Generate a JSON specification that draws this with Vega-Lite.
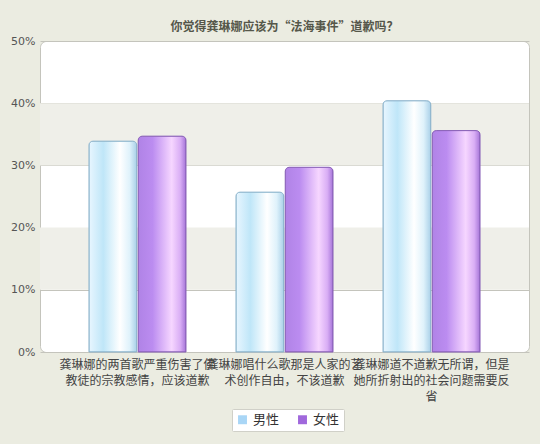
{
  "$schema": "https://vega.github.io/schema/vega-lite/v6.json",
  "width": 489,
  "height": 311,
  "autosize": {"type": "none"},
  "padding": {"left": 40, "top": 41, "right": 11, "bottom": 92},
  "background": "#ebece1",
  "title": {
    "text": "你觉得龚琳娜应该为“法海事件”道歉吗？",
    "fontSize": 12,
    "font": "Noto Sans CJK SC",
    "fontWeight": "bold",
    "color": "#55574a",
    "offset": 1
  },
  "datasets": {
    "survey": [
      {"opinion": "龚琳娜的两首歌严重伤害了佛教徒的宗教感情，应该道歉", "gender": "男性", "share": 0.339},
      {"opinion": "龚琳娜的两首歌严重伤害了佛教徒的宗教感情，应该道歉", "gender": "女性", "share": 0.347},
      {"opinion": "龚琳娜唱什么歌那是人家的艺术创作自由，不该道歉", "gender": "男性", "share": 0.257},
      {"opinion": "龚琳娜唱什么歌那是人家的艺术创作自由，不该道歉", "gender": "女性", "share": 0.297},
      {"opinion": "龚琳娜道不道歉无所谓，但是她所折射出的社会问题需要反省", "gender": "男性", "share": 0.404},
      {"opinion": "龚琳娜道不道歉无所谓，但是她所折射出的社会问题需要反省", "gender": "女性", "share": 0.356}
    ],
    "bands": [
      {"from": 0.1, "to": 0.2},
      {"from": 0.3, "to": 0.4}
    ]
  },
  "layer": [
    {
      "data": {"name": "bands"},
      "mark": {"type": "rect", "fill": "#efefe9"},
      "encoding": {
        "y": {"field": "from", "type": "quantitative"},
        "y2": {"field": "to"}
      }
    },
    {
      "data": {"name": "survey"},
      "mark": {"type": "bar", "cornerRadiusTopLeft": 4, "cornerRadiusTopRight": 4},
      "encoding": {
        "x": {
          "field": "opinion",
          "type": "nominal",
          "sort": null,
          "title": null,
          "scale": {"paddingInner": 0.34, "paddingOuter": 0.333},
          "axis": {
            "labelAngle": 0,
            "labelLimit": 0,
            "labelOverlap": false,
            "labelFontSize": 12,
            "labelFont": "Noto Sans CJK SC",
            "labelColor": "#444444",
            "labelLineHeight": 16,
            "labelPadding": 7,
            "labelBaseline": "top",
            "ticks": false,
            "domain": false,
            "labelExpr": "length(datum.label) > 26 ? [slice(datum.label, 0, 13), slice(datum.label, 13, 26), slice(datum.label, 26)] : [slice(datum.label, 0, 13), slice(datum.label, 13)]"
          }
        },
        "xOffset": {
          "field": "gender",
          "type": "nominal",
          "sort": ["男性", "女性"],
          "scale": {"paddingInner": 0.03}
        },
        "y": {
          "field": "share",
          "type": "quantitative",
          "title": null,
          "scale": {"domain": [0, 0.5]},
          "axis": {
            "values": [0, 0.1, 0.2, 0.3, 0.4, 0.5],
            "format": ".0%",
            "labelFontSize": 11,
            "labelFont": "DejaVu Sans",
            "labelColor": "#555555",
            "labelPadding": 5,
            "ticks": false,
            "domain": false,
            "grid": true,
            "gridColor": "#c4c4bc",
            "gridOpacity": 1
          }
        },
        "color": {
          "field": "gender",
          "type": "nominal",
          "sort": ["男性", "女性"],
          "title": null,
          "scale": {"domain": ["男性", "女性"], "range": ["#a9d6f6", "#a068dc"]},
          "legend": {
            "orient": "none",
            "direction": "horizontal",
            "legendX": 192,
            "legendY": 368,
            "symbolType": "square",
            "symbolSize": 80,
            "symbolStrokeWidth": 0,
            "labelFontSize": 13,
            "labelFont": "Noto Sans CJK SC",
            "labelColor": "#333333",
            "columnPadding": 16,
            "fillColor": "#ffffff",
            "strokeColor": "#d0d0c8",
            "padding": 4,
            "cornerRadius": 1
          }
        }
      }
    },
    {
      "data": {"name": "survey"},
      "transform": [{"filter": "datum.gender === '男性'"}],
      "mark": {
        "type": "bar",
        "cornerRadiusTopLeft": 4,
        "cornerRadiusTopRight": 4,
        "stroke": "#8db4cc",
        "strokeWidth": 1,
        "fill": {
          "gradient": "linear",
          "x1": 0, "y1": 0, "x2": 1, "y2": 0,
          "stops": [
            {"offset": 0, "color": "#e8f6ff"},
            {"offset": 0.3, "color": "#bfe6f8"},
            {"offset": 0.65, "color": "#ffffff"},
            {"offset": 0.85, "color": "#dff2fb"},
            {"offset": 1, "color": "#a9d0e8"}
          ]
        }
      },
      "encoding": {
        "x": {"field": "opinion", "type": "nominal", "sort": null},
        "xOffset": {"field": "gender", "type": "nominal", "sort": ["男性", "女性"]},
        "y": {"field": "share", "type": "quantitative"}
      }
    },
    {
      "data": {"name": "survey"},
      "transform": [{"filter": "datum.gender === '女性'"}],
      "mark": {
        "type": "bar",
        "cornerRadiusTopLeft": 4,
        "cornerRadiusTopRight": 4,
        "stroke": "#8a62b8",
        "strokeWidth": 1,
        "fill": {
          "gradient": "linear",
          "x1": 0, "y1": 0, "x2": 1, "y2": 0,
          "stops": [
            {"offset": 0, "color": "#b083e6"},
            {"offset": 0.3, "color": "#bb8cf0"},
            {"offset": 0.7, "color": "#f6d6ff"},
            {"offset": 0.88, "color": "#d9aef5"},
            {"offset": 1, "color": "#a574d8"}
          ]
        }
      },
      "encoding": {
        "x": {"field": "opinion", "type": "nominal", "sort": null},
        "xOffset": {"field": "gender", "type": "nominal", "sort": ["男性", "女性"]},
        "y": {"field": "share", "type": "quantitative"}
      }
    }
  ],
  "config": {
    "view": {"fill": "#ffffff", "stroke": "#c4c4bc", "cornerRadius": 6}
  }
}
